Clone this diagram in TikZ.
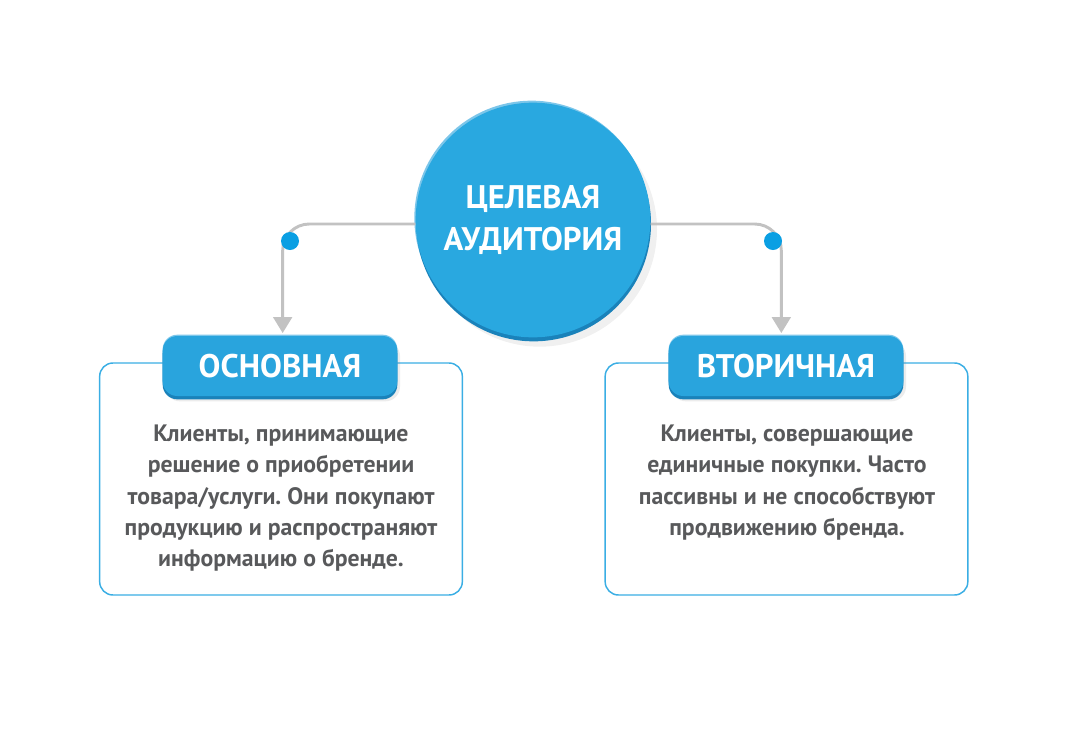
\documentclass[tikz,border=0pt]{standalone}
\usepackage{fontspec}
\setmainfont{PT Sans}
\usetikzlibrary{arrows.meta,shadows,positioning}
\definecolor{audblue}{HTML}{29A8E0}
\definecolor{rimlight}{HTML}{7CC6EA}
\definecolor{rimdark}{HTML}{1A82BA}
\definecolor{pillblue}{HTML}{29A4DD}
\definecolor{linegray}{HTML}{C2C2C2}
\definecolor{dotblue}{HTML}{0A9FE3}
\definecolor{frameblue}{HTML}{3AAEE4}
\definecolor{textgray}{HTML}{58595B}
\frenchspacing

\begin{document}
\begin{tikzpicture}[x=0.75pt, y=-0.75pt,
  conn/.style={draw=linegray, line width=2.2pt, rounded corners=20pt, shorten >=2pt,
    -{Triangle[width=14pt,length=12pt]}},
  knot/.style={circle, fill=dotblue, inner sep=0pt, minimum size=13.5pt},
  frame/.style={draw=frameblue, line width=1.1pt, rounded corners=10pt, fill=white,
    minimum width=272pt, minimum height=174pt},
  pill/.style={fill=pillblue, rounded corners=11pt, minimum width=176pt, minimum height=45pt,
    text=white, font=\bfseries\fontsize{24.5}{28}\selectfont,
    drop shadow={opacity=0.15, shadow xshift=2pt, shadow yshift=-4pt},
    drop shadow={fill=rimlight, opacity=1, shadow xshift=0pt, shadow yshift=1pt},
    drop shadow={fill=rimdark, opacity=1, shadow xshift=0pt, shadow yshift=-2.5pt}},
  body/.style={text=textgray, font=\bfseries\fontsize{17.8}{23.3}\selectfont, align=center,
    anchor=north, inner sep=0pt}]
\useasboundingbox (0,0) rectangle (1068,729);

% Rahmen
\node[frame] (osnbox) at (281,479) {};
\node[frame] (vtobox) at (786.5,479) {};

% Kreis in der Mitte
\node[circle, fill=audblue, minimum size=176pt, inner sep=0pt, text=white, align=center,
  font=\bfseries\fontsize{24.5}{31.5}\selectfont,
  drop shadow={opacity=0.12, shadow xshift=5pt, shadow yshift=-7pt},
  drop shadow={fill=rimlight, opacity=1, shadow xshift=-1pt, shadow yshift=1.5pt},
  drop shadow={fill=rimdark, opacity=1, shadow xshift=0.5pt, shadow yshift=-3pt}]
  (aud) at (533,220) {ЦЕЛЕВАЯ\\АУДИТОРИЯ};

% Beschriftungen
\node[pill] (osn) at (280,366) {ОСНОВНАЯ};
\node[pill] (vto) at (786,366) {ВТОРИЧНАЯ};

% Verbindungen
\draw[conn] ([yshift=-3pt]aud.west) -| ([xshift=2pt]osn.north);
\draw[conn] ([yshift=-3pt]aud.east) -| ([xshift=-3.5pt]vto.north);
\node[knot] (knotl) at (290,241) {};
\node[knot] (knotr) at (773,241) {};

% Texte
\node[body] (osntext) at (281,425) {Клиенты, принимающие\\решение о приобретении\\товара/услуги. Они покупают\\продукцию и распространяют\\информацию о бренде.};
\node[body] (vtotext) at (787,425) {Клиенты, совершающие\\единичные покупки. Часто\\пассивны и не способствуют\\продвижению бренда.};

\end{tikzpicture}
\end{document}
